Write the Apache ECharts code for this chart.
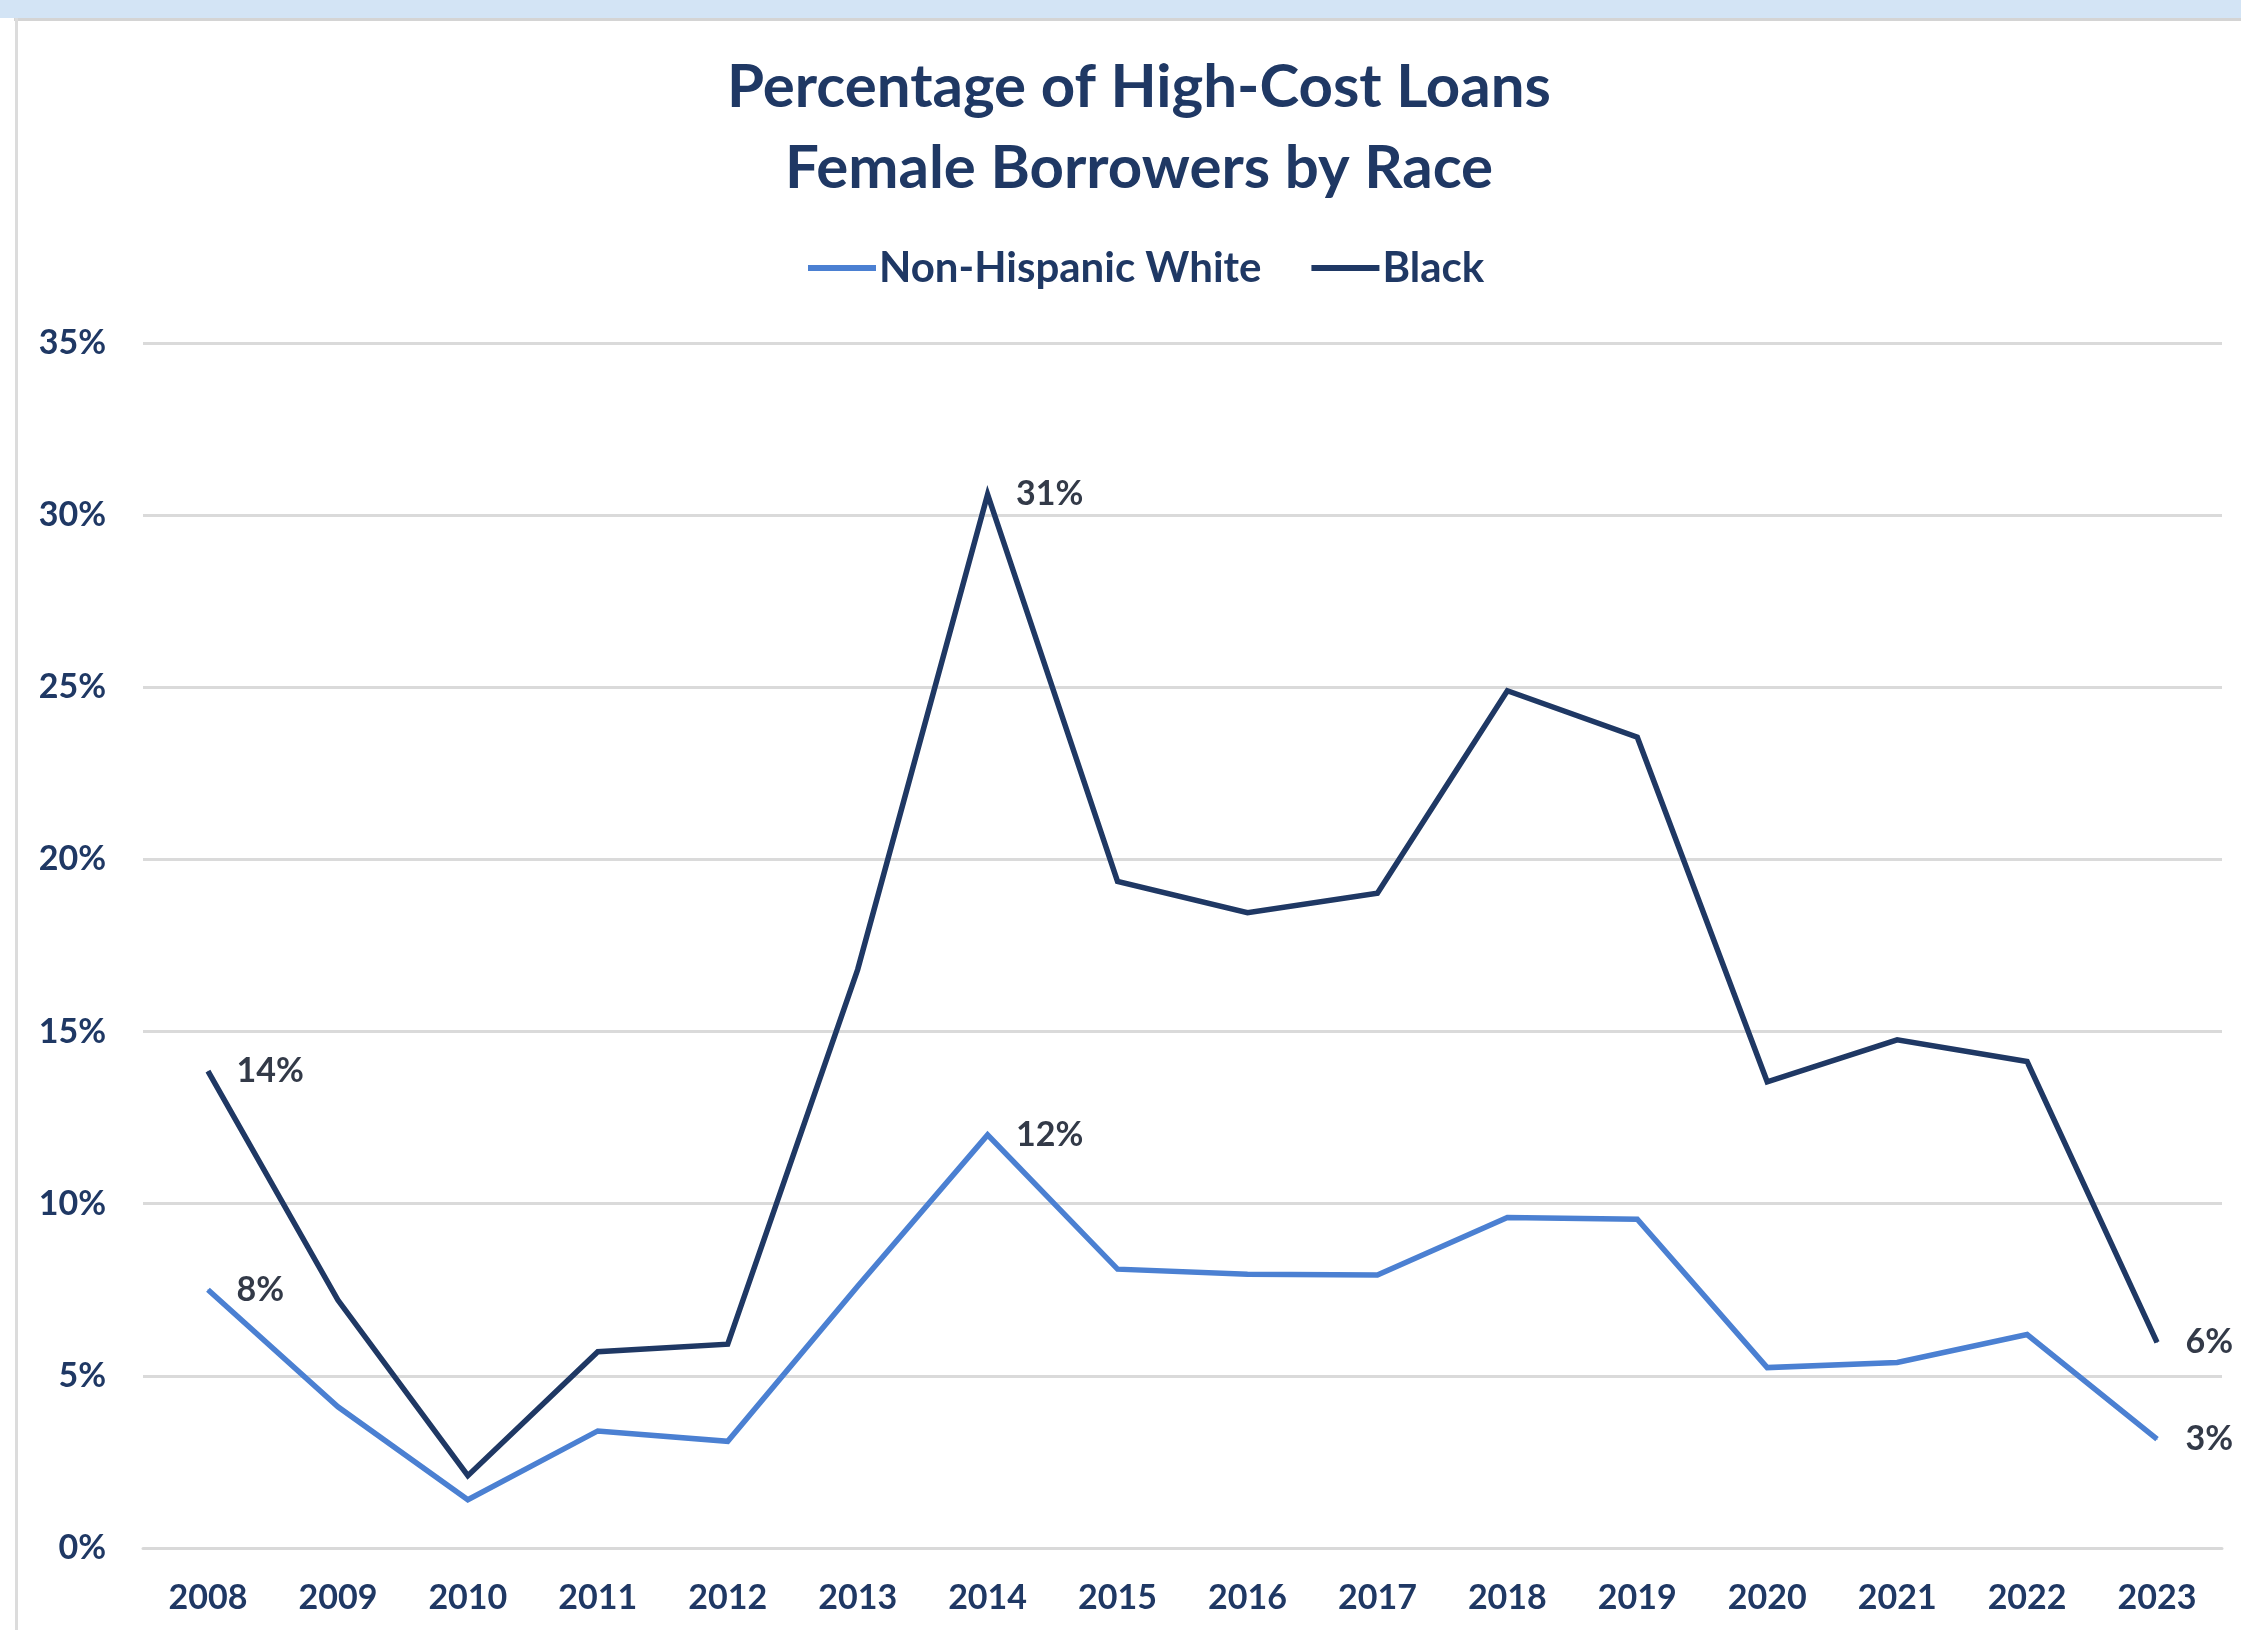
<!DOCTYPE html>
<html>
<head>
<meta charset="utf-8">
<title>Percentage of High-Cost Loans – Female Borrowers by Race</title>
<script src="https://cdn.jsdelivr.net/npm/echarts@6/dist/echarts.min.js"></script>
<style>
  html, body { margin: 0; padding: 0; background: #ffffff; }
  #chart { width: 2241px; height: 1630px; }
</style>
</head>
<body>
<div id="chart"></div>
<script>
// Years on the category axis
const years = ['2008', '2009', '2010', '2011', '2012', '2013', '2014', '2015',
               '2016', '2017', '2018', '2019', '2020', '2021', '2022', '2023'];

// Share of loans to female borrowers that were high-cost (%)
const nonHispanicWhite = [7.5, 4.1, 1.4, 3.4, 3.1, 7.6, 12.0, 8.1, 7.95, 7.93, 9.6, 9.55, 5.24, 5.39, 6.2, 3.16];
const black            = [13.85, 7.2, 2.1, 5.7, 5.92, 16.8, 30.6, 19.36, 18.45, 19.02, 24.9, 23.55, 13.54, 14.76, 14.13, 5.97];

// Years whose points carry a value label
const labelledYears = ['2008', '2014', '2023'];

// Value-axis ticks
const yTicks = [0, 5, 10, 15, 20, 25, 30, 35];

const titleLines = ['Percentage of High-Cost Loans', 'Female Borrowers by Race'];
const seriesNames = ['Non-Hispanic White', 'Black'];

const NAVY = '#1f3864';
const BLUE = '#4b80d2';
const FONT = 'Lato, "Open Sans", sans-serif';

function withLabels(values) {
  return values.map((v, i) => ({
    value: v,
    label: { show: labelledYears.indexOf(years[i]) !== -1 }
  }));
}

const chart = echarts.init(document.getElementById('chart'), null, { renderer: 'canvas' });

const labelStyle = {
  position: 'right',
  distance: 28,
  fontFamily: FONT,
  fontSize: 34,
  fontWeight: 'bold',
  color: '#333a48',
  formatter: p => Math.round(p.value) + '%'
};

chart.setOption({
  backgroundColor: '#ffffff',
  animation: false,
  graphic: [
    // header band and frame
    { type: 'rect', shape: { x: 0, y: 0, width: 2241, height: 18 }, style: { fill: '#d3e4f5' }, silent: true },
    { type: 'rect', shape: { x: 14, y: 18, width: 2227, height: 3 }, style: { fill: '#d4d4d4' }, silent: true },
    { type: 'rect', shape: { x: 15, y: 18, width: 3, height: 1612 }, style: { fill: '#dcdcdc' }, silent: true },
    // two-line title
    {
      type: 'text', x: 1139, y: 88,
      style: { text: titleLines[0], fill: NAVY, font: 'bold 60px ' + FONT, textAlign: 'center', textVerticalAlign: 'middle' },
      silent: true
    },
    {
      type: 'text', x: 1139, y: 169,
      style: { text: titleLines[1], fill: NAVY, font: 'bold 60px ' + FONT, textAlign: 'center', textVerticalAlign: 'middle' },
      silent: true
    }
  ],
  legend: {
    data: seriesNames,
    left: 803,
    top: 242,
    itemWidth: 68,
    itemHeight: 40,
    itemGap: 50,
    icon: 'path://M0,17 L68,17 L68,23 L0,23 Z',
    textStyle: { fontFamily: FONT, fontSize: 42, fontWeight: 'bold', color: NAVY, padding: [0, 0, 0, -2] }
  },
  grid: { left: 143, right: 19, top: 343, bottom: 82, containLabel: false },
  xAxis: {
    type: 'category',
    data: years,
    boundaryGap: true,
    axisLine: { show: true, lineStyle: { color: '#d9d9d9', width: 3 } },
    axisTick: { show: false },
    axisLabel: { margin: 33, fontFamily: FONT, fontSize: 34, fontWeight: 'bold', color: NAVY }
  },
  yAxis: {
    type: 'value',
    min: yTicks[0],
    max: yTicks[yTicks.length - 1],
    interval: yTicks[1] - yTicks[0],
    axisLine: { show: false },
    axisTick: { show: false },
    splitLine: { lineStyle: { color: '#dadada', width: 3 } },
    axisLabel: { margin: 37, fontFamily: FONT, fontSize: 34, fontWeight: 'bold', color: NAVY, formatter: v => v + '%' }
  },
  series: [
    {
      name: seriesNames[0],
      type: 'line',
      data: withLabels(nonHispanicWhite),
      showSymbol: true,
      symbol: 'circle',
      symbolSize: 1,
      color: BLUE,
      itemStyle: { color: BLUE },
      lineStyle: { color: BLUE, width: 5.5, join: 'miter' },
      label: labelStyle,
      z: 3
    },
    {
      name: seriesNames[1],
      type: 'line',
      data: withLabels(black),
      showSymbol: true,
      symbol: 'circle',
      symbolSize: 1,
      color: NAVY,
      itemStyle: { color: NAVY },
      lineStyle: { color: NAVY, width: 5.5, join: 'miter' },
      label: labelStyle,
      z: 4
    }
  ]
});
</script>
</body>
</html>
